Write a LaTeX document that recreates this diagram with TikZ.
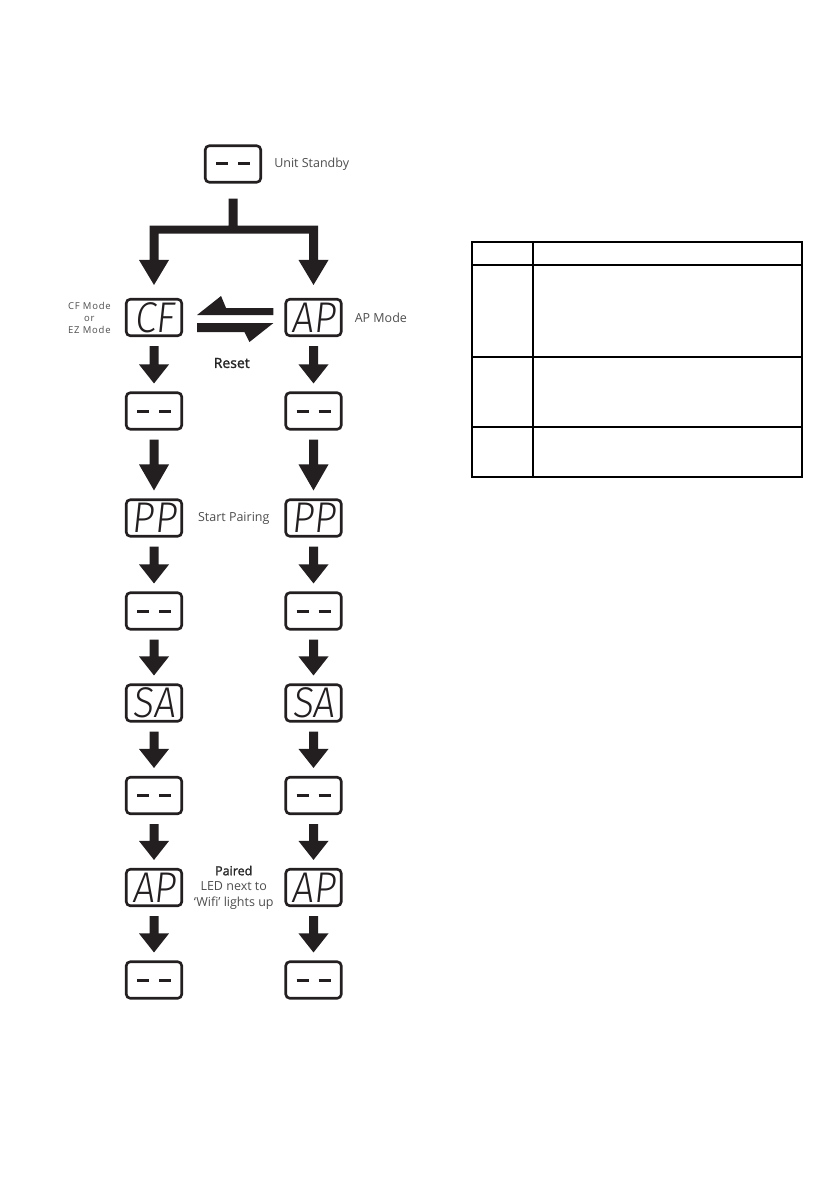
\documentclass[tikz,border=0pt]{standalone}
\usepackage{fontspec}
\usepackage{graphicx}
\usetikzlibrary{calc}
\setmainfont{Open Sans}
\newfontfamily\segfont{Fira Sans Light}[FakeSlant=0.12]
\newfontfamily\semifont{Open Sans}[FakeBold=1.6]
\definecolor{ink}{HTML}{231F20}
\definecolor{txt}{HTML}{4D4D4D}
\definecolor{txtdark}{HTML}{262626}
\tikzset{
  disp/.style={draw=ink, line width=2.6pt, rounded corners=4pt, minimum width=55.5pt,
    minimum height=36.5pt, inner sep=0pt, text=ink,
    font=\segfont\fontsize{43}{43}\selectfont},
  lbl/.style={font=\fontsize{12.5}{15.5}\selectfont, text=txt, inner sep=0pt},
  seg/.style={draw=ink, line width=3pt},
  arrowfill/.style={fill=ink},
  tableline/.style={draw=black, line width=2pt}
}
\newcommand\glyph[1]{\scalebox{0.9}[1]{#1}}
\newcommand\dashes[1]{\draw[seg] ([xshift=-17pt]#1.center) -- ([xshift=-5pt]#1.center)
  ([xshift=5pt]#1.center) -- ([xshift=17pt]#1.center);}
\newcommand\blockarrow[3][19]{%
  \fill[arrowfill] let \p1=(#2.south), \p2=(#3.north) in
  (\x1-4.5pt,\y1-9pt) -- (\x1+4.5pt,\y1-9pt) -- (\x1+4.5pt,\y2+8pt+#1pt) --
  (\x1+15pt,\y2+8pt+#1pt) -- (\x1,\y2+8pt) -- (\x1-15pt,\y2+8pt+#1pt) --
  (\x1-4.5pt,\y2+8pt+#1pt) -- cycle;}
\begin{document}
\begin{tikzpicture}[x=1pt,y=-1pt]
\useasboundingbox (0,0) rectangle (839,1190);
% boxes
\node[disp] (top) at (233,164) {};
\node[disp] (cf) at (154,317.5) {\glyph{CF}};
\node[disp] (apm) at (313.5,317.5) {\glyph{AP}};
\node[disp] (l1) at (154,411) {};
\node[disp] (r1) at (313.5,411) {};
\node[disp] (lpp) at (154,518) {\glyph{PP}};
\node[disp] (rpp) at (313.5,518) {\glyph{PP}};
\node[disp] (l2) at (154,611) {};
\node[disp] (r2) at (313.5,611) {};
\node[disp] (lsa) at (154,703) {\glyph{SA}};
\node[disp] (rsa) at (313.5,703) {\glyph{SA}};
\node[disp] (l3) at (154,795.5) {};
\node[disp] (r3) at (313.5,795.5) {};
\node[disp] (lap) at (154,887.5) {\glyph{AP}};
\node[disp] (rap) at (313.5,887.5) {\glyph{AP}};
\node[disp] (l4) at (154,980) {};
\node[disp] (r4) at (313.5,980) {};
\foreach \n in {top,l1,r1,l2,r2,l3,r3,l4,r4} {\dashes{\n}}
% branch connector
\fill[arrowfill] let \p0=(top.south), \p1=(cf.north), \p2=(apm.north) in
  (\x0-4.5pt,\y0-15pt) -- (\x0+4.5pt,\y0-15pt) -- (\x0+4.5pt,\y0-42pt) --
  (\x2+4.5pt,\y0-42pt) -- (\x2+4.5pt,\y2+38pt) -- (\x2+15pt,\y2+38pt) --
  (\x2,\y2+13pt) -- (\x2-15pt,\y2+38pt) -- (\x2-4.5pt,\y2+38pt) --
  (\x2-4.5pt,\y0-50pt) -- (\x1+4.5pt,\y0-50pt) -- (\x1+4.5pt,\y1+38pt) --
  (\x1+15pt,\y1+38pt) -- (\x1,\y1+13pt) -- (\x1-15pt,\y1+38pt) --
  (\x1-4.5pt,\y1+38pt) -- (\x1-4.5pt,\y0-42pt) -- (\x0-4.5pt,\y0-42pt) -- cycle;
% reset harpoons
\fill[arrowfill] let \p1=(cf.east), \p2=(apm.west) in
  (\x1+14pt,\y1+2.5pt) -- (\x1+38pt,\y1+21.5pt) -- (\x1+43pt,\y1+9.5pt) --
  (\x2-11pt,\y1+9.5pt) -- (\x2-11pt,\y1+2.5pt) -- cycle;
\fill[arrowfill] let \p1=(cf.east), \p2=(apm.west) in
  (\x2-11pt,\y1-5.5pt) -- (\x2-35pt,\y1-24.5pt) -- (\x2-40pt,\y1-14.5pt) --
  (\x1+14pt,\y1-14.5pt) -- (\x1+14pt,\y1-5.5pt) -- cycle;
% column arrows
\blockarrow{cf}{l1}
\blockarrow{apm}{r1}
\blockarrow[26]{l1}{lpp}
\blockarrow[26]{r1}{rpp}
\blockarrow{lpp}{l2}
\blockarrow{rpp}{r2}
\blockarrow{l2}{lsa}
\blockarrow{r2}{rsa}
\blockarrow{lsa}{l3}
\blockarrow{rsa}{r3}
\blockarrow{l3}{lap}
\blockarrow{r3}{rap}
\blockarrow{lap}{l4}
\blockarrow{rap}{r4}
% labels
\node[lbl, anchor=west] (ustb) at ($(top.east)+(12,0)$) {Unit Standby};
\node[lbl, anchor=west] (apml) at ($(apm.east)+(12,0)$) {AP Mode};
\node[lbl, anchor=east, align=center,
  font=\fontsize{9.5}{12}\selectfont\addfontfeature{LetterSpace=8}] (cfl)
  at ($(cf.west)+(-14,0)$) {CF Mode\\or\\EZ Mode};
\node[lbl, text=txtdark, font=\semifont\fontsize{14}{16}\selectfont] (rst)
  at ($($(cf.east)!0.5!(apm.west)$)+(-2,45.5)$) {Reset};
\node[lbl] (spl) at ($(lpp.east)!0.5!(rpp.west)$) {Start Pairing};
\node[lbl, align=center] (prd) at ($(lap.east)!0.5!(rap.west)$)
  {{\semifont\color{txtdark}Paired}\\LED next to\\‘Wifi’ lights up};
% table
\draw[tableline] (471.7,241.7) rectangle (802.3,476.7);
\draw[tableline] (533.3,241.7) -- (533.3,476.7);
\draw[tableline] (471.7,265) -- (802.3,265);
\draw[tableline] (471.7,356.7) -- (802.3,356.7);
\draw[tableline] (471.7,426.7) -- (802.3,426.7);
\end{tikzpicture}
\end{document}
